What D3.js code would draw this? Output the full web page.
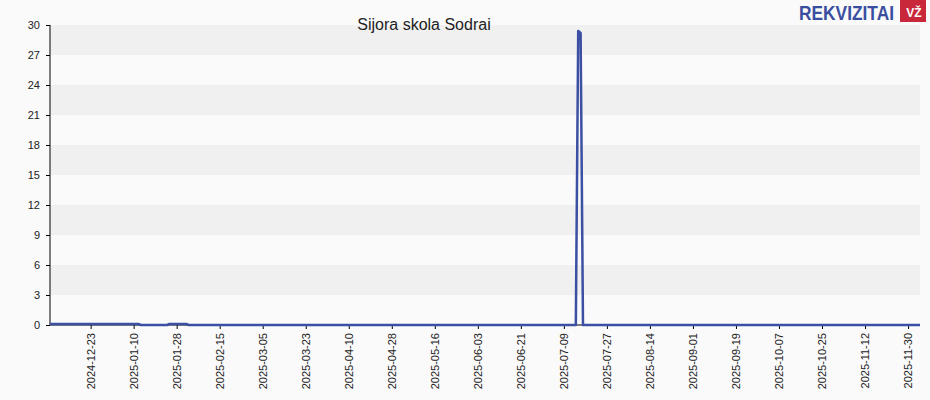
<!DOCTYPE html>
<html><head><meta charset="utf-8">
<script src="https://cdn.jsdelivr.net/npm/d3@7/dist/d3.min.js"></script>
<style>body{margin:0;background:#fff}</style>
</head><body>
<script>
// data
var dates = ["2024-12-06","2025-01-12","2025-01-13","2025-01-24","2025-01-25","2025-02-01","2025-02-02",
             "2025-07-14","2025-07-15","2025-07-16","2025-07-17","2025-12-05"];
var values = [0.1, 0.1, 0, 0, 0.1, 0.1, 0, 0, 29.4, 29.2, 0, 0];
var yTicks = [0,3,6,9,12,15,18,21,24,27,30];
var xTicks = ["2024-12-23","2025-01-10","2025-01-28","2025-02-15","2025-03-05","2025-03-23","2025-04-10",
              "2025-04-28","2025-05-16","2025-06-03","2025-06-21","2025-07-09","2025-07-27","2025-08-14",
              "2025-09-01","2025-09-19","2025-10-07","2025-10-25","2025-11-12","2025-11-30"];

var W = 930, H = 400, m = {l:50, r:10, t:25, b:75};
var parse = d3.utcParse("%Y-%m-%d");
var svg = d3.select("body").append("svg").attr("width", W).attr("height", H)
    .style("font-family", "Arial, 'Liberation Sans', sans-serif");
svg.append("rect").attr("width", W).attr("height", H).attr("fill", "#fafafa");

var x = d3.scaleUtc().domain([parse("2024-12-06"), parse("2025-12-05")]).range([m.l, W - m.r]);
var y = d3.scaleLinear().domain([0, 30]).range([H - m.b, m.t]);

// bands
svg.selectAll("rect.band").data(yTicks.slice(0, -1)).enter().append("rect")
    .attr("x", m.l).attr("width", W - m.r - m.l)
    .attr("y", function(d){ return y(d + 3); })
    .attr("height", function(d){ return y(d) - y(d + 3); })
    .attr("fill", function(d, i){ return i % 2 ? "#f0f0f0" : "#fafafa"; });

var ya = svg.append("g").attr("transform", "translate(" + m.l + ",0)")
    .call(d3.axisLeft(y).tickValues(yTicks).tickSize(4).tickPadding(6));
ya.selectAll("text").attr("font-size", 11).attr("fill", "#222");
ya.select(".domain").attr("d", "M0," + y(30) + "V" + y(0));

var xa = svg.append("g").attr("transform", "translate(0," + (H - m.b) + ")")
    .call(d3.axisBottom(x).tickValues(xTicks.map(parse)).tickFormat(d3.utcFormat("%Y-%m-%d")).tickSize(4));
xa.select(".domain").attr("d", "M" + m.l + ",0H" + (W - m.r));
xa.selectAll("text").attr("font-size", 11).attr("fill", "#222")
    .attr("transform", "rotate(-90)").attr("text-anchor", "end")
    .attr("dx", "-8").attr("dy", "0.35em").attr("x", 0).attr("y", 0);

var line = d3.line().x(function(d){ return x(parse(d[0])); }).y(function(d){ return y(d[1]); });
svg.append("path").datum(dates.map(function(d, i){ return [d, values[i]]; }))
    .attr("d", line).attr("fill", "none").attr("stroke", "#3b4fa3").attr("stroke-width", 2.5)
    .attr("stroke-linejoin", "round");

svg.append("text").attr("x", 424).attr("y", 30).attr("text-anchor", "middle")
    .attr("font-size", 16).attr("fill", "#222").text("Sijora skola Sodrai");

// logo
svg.append("text").attr("x", 799).attr("y", 20).attr("font-size", 21).attr("font-weight", "bold")
    .attr("fill", "#3a4ea0").attr("textLength", 95).attr("lengthAdjust", "spacingAndGlyphs").text("REKVIZITAI");
svg.append("rect").attr("x", 900).attr("y", 0).attr("width", 26).attr("height", 22).attr("fill", "#c8283a");
svg.append("text").attr("x", 914).attr("y", 17).attr("text-anchor", "middle").attr("font-size", 12)
    .attr("font-weight", "bold").attr("fill", "#fff").text("VŽ");
</script>
</body></html>
